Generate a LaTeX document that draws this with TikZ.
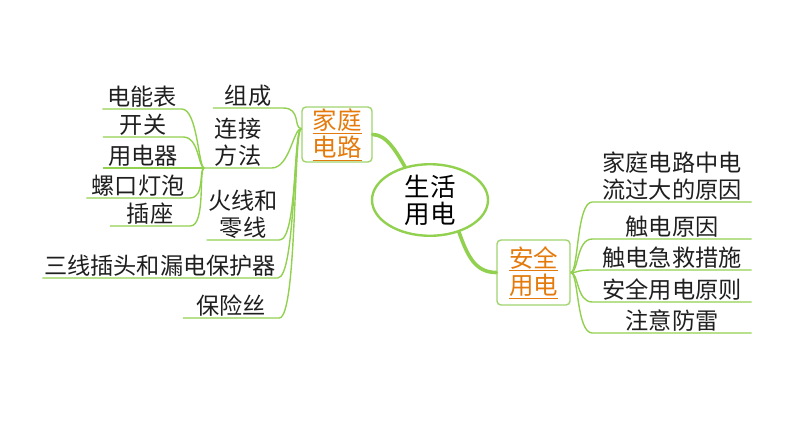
\documentclass[tikz,border=0pt]{standalone}
\usepackage{fontspec}
\newfontfamily\cjk{Noto Sans CJK SC}
\usetikzlibrary{shapes.geometric}
\definecolor{lgreen}{RGB}{146,208,80}
\definecolor{bgreen}{RGB}{160,212,110}
\definecolor{lorange}{RGB}{228,122,12}
\tikzset{
  leaf/.style={anchor=south,inner sep=1.5pt,align=center,text=black!88,
    font=\cjk\fontsize{23.2}{27}\selectfont},
  branch/.style={draw=lgreen,line width=1.4pt},
  trunk/.style={draw=lgreen,line width=3.6pt,line cap=round},
  topic/.style={draw=bgreen,line width=1.4pt,rounded corners=4pt,align=center,
    text=lorange,inner sep=0pt,font=\cjk\fontsize{24.5}{27}\selectfont}
}
\newcommand*{\ul}[1]{\underline{#1}}

\begin{document}
\begin{tikzpicture}[x=1pt,y=-1pt]
\useasboundingbox (0,0) rectangle (794,447);
% main topic and the two subtopics
\node[ellipse,draw=lgreen,line width=2.4pt,minimum width=116pt,minimum height=60pt,
  inner sep=0pt,align=center,font=\cjk\fontsize{25.5}{27}\selectfont] (root) at (430,200) {生活\\用电};
\node[topic,minimum width=70pt,minimum height=55pt] (jt) at (337,134.5) {\ul{家庭}\\\ul{电路}};
\node[topic,minimum width=73pt,minimum height=65pt] (aq) at (533.5,272.5) {\ul{安全}\\\ul{用电}};
\draw[trunk] (root.127) .. controls +(-8,-14) and +(14,0) .. (jt.east);
\draw[trunk] (root.-48) .. controls +(8,22) and +(-22,0) .. (aq.west);
\coordinate (jtin) at ([yshift=6pt]jt.west);
% left side
\node[leaf,minimum width=70pt] (zc) at (248,108) {组成};
\node[leaf,minimum width=67pt] (ljff) at (238,168) {连接\\方法};
\node[leaf,minimum width=67pt] (hx) at (243,240) {火线和\\零线};
\node[leaf,minimum width=234pt] (sx) at (160,278) {三线插头和漏电保护器};
\node[leaf,minimum width=96pt] (bxs) at (231,318) {保险丝};
\foreach \nm in {zc,ljff,hx,sx,bxs}
  \draw[branch] (jtin) .. controls +(-8,0) and +(18,0) .. (\nm.south east) -- (\nm.south west);
% parts of the circuit
\node[leaf,minimum width=79pt] (dnb) at (142,109) {电能表};
\node[leaf,minimum width=80pt] (kg) at (143,137) {开关};
\node[leaf,minimum width=80pt] (yqq) at (143,168) {用电器};
\node[leaf,minimum width=103pt] (lkdp) at (138,198) {螺口灯泡};
\node[leaf,minimum width=80pt] (cz) at (150,226) {插座};
\foreach \nm in {dnb,kg,yqq,lkdp,cz}
  \draw[branch] (ljff.south west) .. controls +(-6,0) and +(16,0) .. (\nm.south east) -- (\nm.south west);
% right side
\foreach \nm/\y/\txt in {r1/202/{家庭电路中电\\流过大的原因},r2/239/触电原因,
    r3/270/触电急救措施,r4/302/安全用电原则,r5/333/注意防雷}{
  \node[leaf,minimum width=159pt] (\nm) at (672,\y) {\txt};
  \draw[branch] (aq.east) .. controls +(8,0) and +(-16,0) .. (\nm.south west) -- (\nm.south east);
}
\end{tikzpicture}
\end{document}
